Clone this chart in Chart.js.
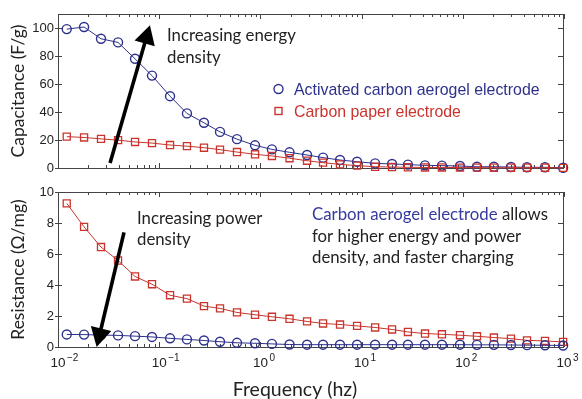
<!DOCTYPE html>
<html>
<head>
<meta charset="utf-8">
<script src="https://cdn.jsdelivr.net/npm/chart.js@4.4.0/dist/chart.umd.min.js"></script>
<style>
    html, body { margin: 0; padding: 0; background: #fff; }
    .panel { position: absolute; left: 0; width: 582px; }
</style>
</head>
<body>
<div class="panel" style="top:0;height:180px"><canvas id="capChart"></canvas></div>
<div class="panel" style="top:180px;height:219px"><canvas id="resChart"></canvas></div>
<script>
const frequency = [0.0122, 0.0181, 0.0266, 0.0392, 0.0577, 0.0849, 0.128, 0.188, 0.277, 0.399,
    0.587, 0.885, 1.30, 1.94, 2.89, 4.16, 6.12, 9.02, 13.6, 20.0,
    28.7, 42.3, 62.2, 93.8, 138, 203, 299, 431, 649, 980];

const capAerogel = [99.2, 100.7, 92.3, 89.7, 78.0, 66.0, 51.3, 39.0, 32.3, 25.8,
    20.6, 16.2, 13.3, 11.2, 9.3, 7.4, 5.7, 4.5, 3.3, 2.9,
    2.4, 1.9, 1.7, 1.4, 0.9, 0.9, 0.7, 0.5, 0.5, 0.2];
const capPaper = [22.4, 21.8, 20.8, 19.9, 18.6, 17.8, 16.4, 15.6, 14.5, 13.1,
    11.4, 9.8, 8.6, 7.0, 5.2, 3.8, 2.6, 1.7, 0.9, 0.7,
    0.5, 0.4, 0.4, 0.3, 0.3, 0.2, 0.2, 0.2, 0.2, 0.1];

const resAerogel = [0.81, 0.80, 0.77, 0.75, 0.70, 0.65, 0.56, 0.49, 0.42, 0.34,
    0.27, 0.24, 0.20, 0.16, 0.15, 0.15, 0.15, 0.15, 0.15, 0.15,
    0.15, 0.15, 0.15, 0.15, 0.14, 0.14, 0.13, 0.12, 0.11, 0.10];
const resPaper = [9.27, 7.75, 6.45, 5.58, 4.55, 4.05, 3.34, 3.12, 2.64, 2.49,
    2.23, 2.08, 1.95, 1.82, 1.65, 1.52, 1.45, 1.36, 1.26, 1.13,
    0.97, 0.87, 0.82, 0.76, 0.69, 0.61, 0.54, 0.43, 0.39, 0.33];

const capTicks = [0, 20, 40, 60, 80, 100];
const resTicks = [0, 2, 4, 6, 8, 10];
const freqDecades = [-2, -1, 0, 1, 2, 3];

const blue = '#2d318c';
const red = '#c9342d';
const ink = '#222222';
const tickFont = '"Liberation Sans", Arial, sans-serif';
const textFont = 'Lato, "Open Sans", sans-serif';

function pairs(values) {
    return frequency.map((f, i) => ({ x: f, y: values[i] }));
}

function aerogelSet(values, order) {
    return {
        label: 'Activated carbon aerogel electrode', data: pairs(values), order: order,
        borderColor: blue, borderWidth: 1, backgroundColor: 'rgba(0,0,0,0)',
        pointStyle: 'circle', pointRadius: 4.5, pointBorderWidth: 1.4,
        pointBorderColor: blue, pointBackgroundColor: 'rgba(0,0,0,0)', clip: false
    };
}

function paperSet(values, order) {
    return {
        label: 'Carbon paper electrode', data: pairs(values), order: order,
        borderColor: red, borderWidth: 1, backgroundColor: 'rgba(0,0,0,0)',
        pointStyle: 'rect', pointRadius: 5, pointBorderWidth: 1.3,
        pointBorderColor: red, pointBackgroundColor: 'rgba(0,0,0,0)', clip: false
    };
}

function drawFrame(chart) {
    var ctx = chart.ctx, a = chart.chartArea, xs = chart.scales.x, ys = chart.scales.y;
    ctx.save();
    ctx.strokeStyle = '#444';
    ctx.lineWidth = 1;
    ctx.strokeRect(Math.round(a.left) + 0.5, Math.round(a.top) + 0.5,
        Math.round(a.right - a.left) - 1, Math.round(a.bottom - a.top));
    ctx.beginPath();
    freqDecades.forEach(e => {
        for (var m = 1; m <= 9; m++) {
            if (e === 3 && m > 1) break;
            var px = Math.round(xs.getPixelForValue(m * Math.pow(10, e))) + 0.5;
            var len = m === 1 ? 5 : 3;
            ctx.moveTo(px, a.bottom); ctx.lineTo(px, a.bottom - len);
            ctx.moveTo(px, a.top); ctx.lineTo(px, a.top + len);
        }
    });
    ys.ticks.forEach(t => {
        var py = Math.round(ys.getPixelForValue(t.value)) + 0.5;
        ctx.moveTo(a.left - 3, py); ctx.lineTo(a.left + 4, py);
        ctx.moveTo(a.right - 1, py); ctx.lineTo(a.right - 6, py);
    });
    ctx.stroke();
    ctx.restore();
}

function drawArrow(chart, from, to) {
    var ctx = chart.ctx, xs = chart.scales.x, ys = chart.scales.y;
    var x1 = xs.getPixelForValue(from[0]), y1 = ys.getPixelForValue(from[1]);
    var x2 = xs.getPixelForValue(to[0]), y2 = ys.getPixelForValue(to[1]);
    var ang = Math.atan2(y2 - y1, x2 - x1);
    var headLen = 19, headW = 10.5;
    var bx = x2 - headLen * Math.cos(ang), by = y2 - headLen * Math.sin(ang);
    ctx.save();
    ctx.strokeStyle = '#000';
    ctx.fillStyle = '#000';
    ctx.lineWidth = 3.6;
    ctx.beginPath();
    ctx.moveTo(x1, y1);
    ctx.lineTo(bx + 2 * Math.cos(ang), by + 2 * Math.sin(ang));
    ctx.stroke();
    ctx.beginPath();
    ctx.moveTo(x2, y2);
    ctx.lineTo(bx + headW * Math.sin(ang), by - headW * Math.cos(ang));
    ctx.lineTo(bx - headW * Math.sin(ang), by + headW * Math.cos(ang));
    ctx.closePath();
    ctx.fill();
    ctx.restore();
}

function text(ctx, str, x, y, font, color, align) {
    ctx.font = font;
    ctx.fillStyle = color;
    ctx.textAlign = align || 'left';
    ctx.textBaseline = 'alphabetic';
    ctx.fillText(str, x, y);
}

const capPlugin = {
    id: 'capExtras',
    beforeDatasetsDraw(chart) { drawFrame(chart); },
    afterDraw(chart) {
        var ctx = chart.ctx;
        ctx.save();
        drawArrow(chart, [0.0327, 3.5], [0.081, 102]);
        text(ctx, 'Increasing energy', 167, 41, '16.8px ' + textFont, ink);
        text(ctx, 'density', 167, 63, '16.8px ' + textFont, ink);

        // legend
        ctx.lineWidth = 1.4;
        ctx.strokeStyle = blue;
        ctx.beginPath();
        ctx.arc(278.5, 89, 4.5, 0, Math.PI * 2);
        ctx.stroke();
        ctx.strokeStyle = red;
        ctx.strokeRect(275, 107.5, 7, 7);
        text(ctx, 'Activated carbon aerogel electrode', 294, 95, '15.9px ' + tickFont, blue);
        text(ctx, 'Carbon paper electrode', 294, 116.5, '15.9px ' + tickFont, red);
        ctx.restore();
    }
};

const resPlugin = {
    id: 'resExtras',
    beforeDatasetsDraw(chart) { drawFrame(chart); },
    afterDraw(chart) {
        var ctx = chart.ctx, xs = chart.scales.x, a = chart.chartArea;
        ctx.save();
        drawArrow(chart, [0.0449, 7.4], [0.0241, 0]);
        text(ctx, 'Increasing power', 137, 44, '16.8px ' + textFont, ink);
        text(ctx, 'density', 137, 65, '16.8px ' + textFont, ink);

        var f = '16.8px ' + textFont;
        ctx.font = f;
        var lead = 'Carbon aerogel electrode';
        text(ctx, lead, 312, 40, f, '#363a9c');
        text(ctx, ' allows', 312 + ctx.measureText(lead).width, 40, f, ink);
        text(ctx, 'for higher energy and power', 312, 61.5, f, ink);
        text(ctx, 'density, and faster charging', 312, 83, f, ink);

        // log tick labels 10^n
        freqDecades.forEach(e => {
            var px = xs.getPixelForValue(Math.pow(10, e));
            ctx.font = '13.5px ' + tickFont;
            var w = ctx.measureText('10').width;
            text(ctx, '10', px, a.bottom + 20, '13.5px ' + tickFont, ink, 'center');
            text(ctx, e < 0 ? '\u2212' + (-e) : String(e), px + w / 2 + 1.5, a.bottom + 14,
                '10px ' + tickFont, ink, 'left');
        });
        text(ctx, 'Frequency (hz)', 295, 216, '19.5px ' + textFont, ink, 'center');
        ctx.restore();
    }
};

function yScale(max, ticks, title) {
    return {
        min: 0, max: max,
        afterBuildTicks: s => { s.ticks = ticks.map(v => ({ value: v })); },
        afterFit: s => { s.width = 58; },
        grid: { display: false, drawTicks: false },
        border: { display: false },
        ticks: { padding: 4, color: ink, font: { family: tickFont, size: 13 } },
        title: { display: true, text: title, color: ink, font: { family: textFont, size: 17.5 },
                 padding: { top: 8, bottom: 0 } }
    };
}

function baseOptions(padding, y) {
    return {
        responsive: true, maintainAspectRatio: false, animation: false,
        layout: { padding: padding },
        plugins: { legend: { display: false }, tooltip: { enabled: false } },
        elements: { line: { tension: 0 } },
        scales: {
            x: { type: 'logarithmic', min: 0.01, max: 1000, display: false },
            y: y
        }
    };
}

new Chart(document.getElementById('capChart'), {
    type: 'line',
    data: { datasets: [aerogelSet(capAerogel, 1), paperSet(capPaper, 0)] },
    options: baseOptions({ top: 14, right: 18, bottom: 12, left: 0 },
        yScale(110, capTicks, 'Capacitance (F/g)')),
    plugins: [capPlugin]
});

new Chart(document.getElementById('resChart'), {
    type: 'line',
    data: { datasets: [aerogelSet(resAerogel, 0), paperSet(resPaper, 1)] },
    options: baseOptions({ top: 12, right: 18, bottom: 52, left: 0 },
        yScale(10, resTicks, 'Resistance (\u03A9/mg)')),
    plugins: [resPlugin]
});
</script>
</body>
</html>
